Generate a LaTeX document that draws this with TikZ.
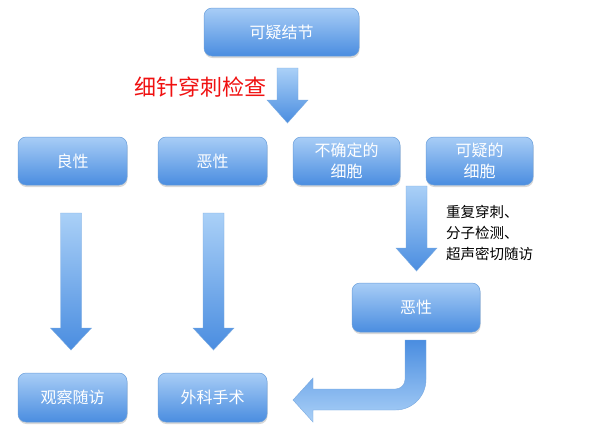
\documentclass[tikz,border=0pt]{standalone}
\usepackage{fontspec}
\setmainfont{Noto Sans CJK SC}
\usetikzlibrary{shadows}
\definecolor{boxtop}{HTML}{A8CDF6}
\definecolor{boxbot}{HTML}{4A8DE0}
\definecolor{boxedge}{HTML}{6A9FDB}
\definecolor{arrtop}{HTML}{AAD0F7}
\definecolor{arrbot}{HTML}{4A8DE0}
\definecolor{arredge}{HTML}{7AAAE0}
\definecolor{redtxt}{HTML}{F01010}
\tikzset{
  flowbox/.style={draw=boxedge, line width=0.5pt, rounded corners=8pt,
    top color=boxtop, bottom color=boxbot, text=white, align=center,
    font=\fontsize{16}{21}\selectfont, inner sep=0pt,
    drop shadow={shadow xshift=0.5pt, shadow yshift=-2pt, opacity=0.25, fill=black!60}},
  arrshade/.style={draw=arredge, line width=0.4pt, top color=arrtop, bottom color=arrbot},
}
\newcommand\dnarrow[4]{%
  \shade[arrshade] (#1-10.5,-#2) -- (#1+10.5,-#2) -- (#1+10.5,-#3) -- (#1+20.5,-#3)
    -- (#1,-#4) -- (#1-20.5,-#3) -- (#1-10.5,-#3) -- cycle;}
\begin{document}
\begin{tikzpicture}[x=1pt, y=1pt]
\useasboundingbox (0,0) rectangle (594,-442);
\fill[white] (0,0) rectangle (594,-442);

% boxes
\node[flowbox, minimum width=155pt, minimum height=48pt] (top) at (281.5,-32) {可疑结节};
\node[flowbox, minimum width=109pt, minimum height=48pt] (benign) at (72.5,-161) {良性};
\node[flowbox, minimum width=109pt, minimum height=48pt] (malig) at (212.5,-161) {恶性};
\node[flowbox, minimum width=107pt, minimum height=48pt] (uncert) at (346.5,-161) {不确定的\\细胞};
\node[flowbox, minimum width=107pt, minimum height=48pt] (susp) at (479.5,-161) {可疑的\\细胞};
\node[flowbox, minimum width=128pt, minimum height=49pt] (malig2) at (416,-307.5) {恶性};
\node[flowbox, minimum width=109pt, minimum height=49pt] (follow) at (72.5,-397.5) {观察随访};
\node[flowbox, minimum width=109pt, minimum height=49pt] (surg) at (212.5,-397.5) {外科手术};

% labels
\node[text=redtxt, font=\fontsize{22}{26}\selectfont, inner sep=0pt] (fna) at (200.5,-87) {细针穿刺检查};
\node[anchor=west, align=left, font=\fontsize{14.5}{21}\selectfont, inner sep=0pt] (tests) at (446,-233)
  {重复穿刺、\\分子检测、\\超声密切随访};

% straight block arrows
\dnarrow{287.5}{68}{100}{123}
\dnarrow{71}{213}{328}{350}
\dnarrow{213.5}{213}{328}{350}
\dnarrow{416.5}{186}{248}{271}

% bent block arrow from malig2 to surg
\shade[draw=arredge, line width=0.4pt, top color=arrbot, bottom color=arrtop]
  (405,-340) -- (426,-340) -- (426,-379.5)
  arc[start angle=0, end angle=-90, radius=30.5]
  -- (313,-410) -- (313,-422) -- (293,-400) -- (313,-378) -- (313,-389)
  -- (395.5,-389)
  arc[start angle=-90, end angle=0, radius=9.5]
  -- cycle;
\end{tikzpicture}
\end{document}
